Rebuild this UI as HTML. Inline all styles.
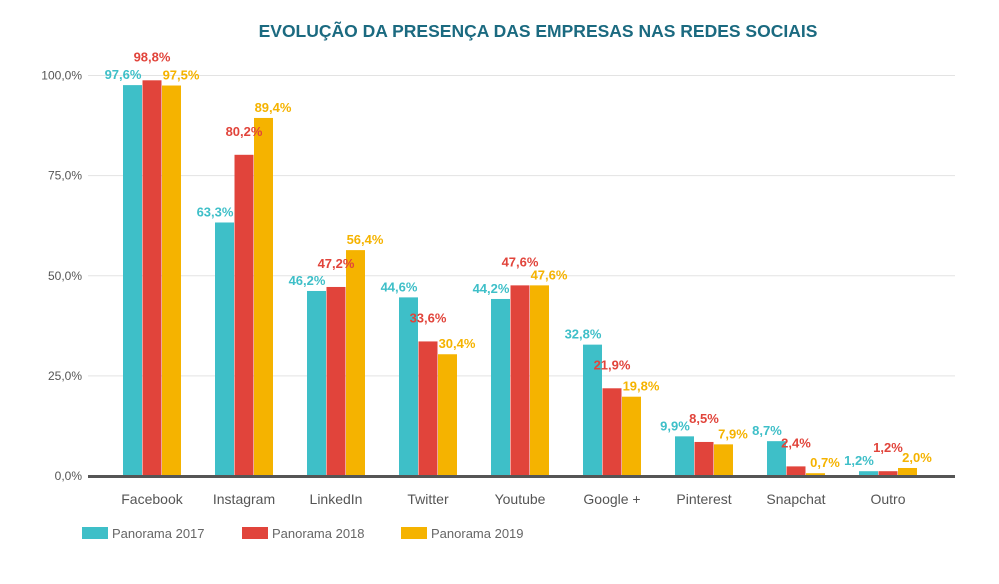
<!DOCTYPE html>
<html><head><meta charset="utf-8"><style>
body{margin:0;background:#fff;}
svg{display:block;font-family:"Liberation Sans",sans-serif;}
</style></head><body>
<svg id="c" width="999" height="584" xmlns="http://www.w3.org/2000/svg">
<text x="538" y="37" text-anchor="middle" font-size="17.5" font-weight="bold" fill="#1b6a80">EVOLUÇÃO DA PRESENÇA DAS EMPRESAS NAS REDES SOCIAIS</text>
<g id="grid"></g><g id="bars"></g><g id="labels"></g><g id="legend"></g>
</svg>
<script>
const categories=["Facebook","Instagram","LinkedIn","Twitter","Youtube","Google +","Pinterest","Snapchat","Outro"];
const s2017=[97.6,63.3,46.2,44.6,44.2,32.8,9.9,8.7,1.2];
const s2018=[98.8,80.2,47.2,33.6,47.6,21.9,8.5,2.4,1.2];
const s2019=[97.5,89.4,56.4,30.4,47.6,19.8,7.9,0.7,2.0];
const ticks=[0,25,50,75,100];
const tickLabels=["0,0%","25,0%","50,0%","75,0%","100,0%"];
const seriesNames=["Panorama 2017","Panorama 2018","Panorama 2019"];
const colors=["#3ebfc8","#e1443b","#f5b300"];
const NS="http://www.w3.org/2000/svg";
const y0=476,yScale=4.005;
function y(v){return y0-v*yScale;}
const bandStart=106,band=92;
function xc(i){return bandStart+band*i+band/2;}
function mk(tag,attrs,parent,txt){const e=document.createElementNS(NS,tag);for(const k in attrs)e.setAttribute(k,attrs[k]);if(txt!==undefined)e.textContent=txt;parent.appendChild(e);return e;}
const grid=document.getElementById('grid'),bars=document.getElementById('bars'),labels=document.getElementById('labels'),legend=document.getElementById('legend');
ticks.forEach((t,i)=>{
  if(t>0){const l=mk('line',{x1:88,x2:955,y1:y(t),y2:y(t),stroke:'#e3e3e3','stroke-width':1},grid);
  
  }
  const tx=mk('text',{x:82,y:y(t)+4,'text-anchor':'end','font-size':12,fill:'#555'},grid,tickLabels[i]);
  
  
});
const series=[s2017,s2018,s2019];
const bw=19;
categories.forEach((c,i)=>{
  series.forEach((s,j)=>{
    const x=xc(i)+(j-1)*(bw+0.5)-bw/2;
    const r=mk('rect',{x:x,y:y(s[i]),width:bw,height:y0-y(s[i]),fill:colors[j]},bars);
    
    
    const off=(j-1)*(bw+10);
    const dy=(j===1)?19:6;
    const lt=mk('text',{x:xc(i)+off,y:y(s[i])-dy,'text-anchor':'middle','font-size':13,'font-weight':'bold',fill:colors[j]},labels,String(s[i].toFixed(1)).replace('.',',')+'%');
    
    
  });
  const cl=mk('text',{x:xc(i),y:504,'text-anchor':'middle','font-size':14,fill:'#555'},labels,c);
  
  
});
const base=mk('line',{x1:88,x2:955,y1:y0+0.5,y2:y0+0.5,stroke:'#555','stroke-width':3},bars);


const lx=[82,242,401];
seriesNames.forEach((n,j)=>{
  const g=mk('g',{},legend);
  
  
  mk('rect',{x:lx[j],y:527,width:26,height:12,fill:colors[j]},g);
  mk('text',{x:lx[j]+30,y:538,'font-size':13,fill:'#666'},g,n);
});
</script>
</body></html>
